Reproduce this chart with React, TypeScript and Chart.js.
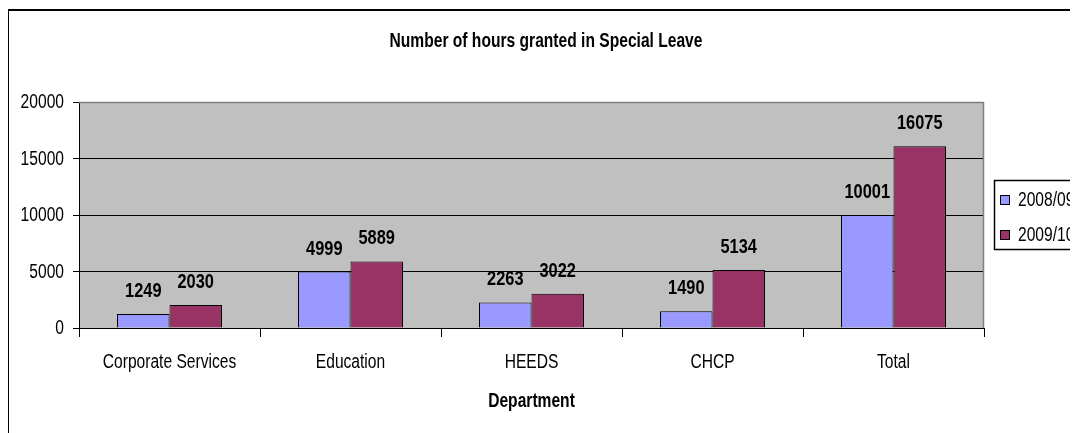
import React, { useEffect, useRef } from "react";
import { Chart, registerables } from "chart.js";

Chart.register(...registerables);

const categories = ["Corporate Services", "Education", "HEEDS", "CHCP", "Total"];
const seriesNames = ["2008/09", "2009/10"];
const values0809 = [1249, 4999, 2263, 1490, 10001];
const values0910 = [2030, 5889, 3022, 5134, 16075];
const seriesColors = ["#9999FF", "#993366"];
const yTicks = [0, 5000, 10000, 15000, 20000];
const chartTitle = "Number of hours granted in Special Leave";
const xTitle = "Department";

const FONT = "'Liberation Sans', Arial, sans-serif";
const FS = 19.5;
const CONDENSE = 0.8;

// Draw all canvas text horizontally condensed (Arial Narrow look-alike).
function condenseText(ctx: any, s: number) {
  const orig = ctx.fillText;
  ctx.fillText = function (text: string, x: number, y: number, maxWidth?: number) {
    this.save();
    this.translate(x, y);
    this.scale(s, 1);
    if (maxWidth === undefined || maxWidth === null) orig.call(this, text, 0, 0);
    else orig.call(this, text, 0, 0, maxWidth / s);
    this.restore();
  };
}

const plotBg = {
  id: "plotBg",
  beforeDraw(chart: any) {
    const { ctx, chartArea: a } = chart;
    ctx.save();
    ctx.fillStyle = "#C0C0C0";
    ctx.fillRect(a.left, a.top, a.right - a.left, a.bottom - a.top);
    ctx.restore();
  },
  beforeDatasetsDraw(chart: any) {
    const { ctx, chartArea: a } = chart;
    ctx.save();
    ctx.strokeStyle = "#808080";
    ctx.lineWidth = 1.5;
    ctx.beginPath();
    ctx.moveTo(a.left, a.top + 0.5);
    ctx.lineTo(a.right - 0.5, a.top + 0.5);
    ctx.lineTo(a.right - 0.5, a.bottom);
    ctx.stroke();
    ctx.restore();
  },
};

const dataLabels = {
  id: "dataLabels",
  afterDatasetsDraw(chart: any) {
    const { ctx } = chart;
    ctx.save();
    ctx.font = `bold 20.5px ${FONT}`;
    ctx.fillStyle = "#000";
    ctx.textAlign = "center";
    ctx.textBaseline = "alphabetic";
    chart.data.datasets.forEach((ds: any, di: number) => {
      const meta = chart.getDatasetMeta(di);
      meta.data.forEach((bar: any, i: number) => {
        ctx.fillText(String(ds.data[i]), bar.x, bar.y - 17);
      });
    });
    ctx.restore();
  },
};

const customLegend = {
  id: "customLegend",
  afterDraw(chart: any) {
    const { ctx, chartArea: a } = chart;
    const left = a.right + 10;
    const top = (a.top + a.bottom) / 2 - 35;
    const h = 69;
    ctx.save();
    ctx.strokeStyle = "#000";
    ctx.lineWidth = 1.5;
    ctx.strokeRect(left + 0.5, top + 0.5, 300, h);
    ctx.font = `${FS}px ${FONT}`;
    ctx.textBaseline = "middle";
    ctx.textAlign = "left";
    chart.data.datasets.forEach((ds: any, i: number) => {
      const cy = top + 20 + i * 35;
      ctx.fillStyle = ds.backgroundColor;
      ctx.fillRect(left + 6.5, cy - 4.5, 9, 9);
      ctx.strokeStyle = "#000";
      ctx.lineWidth = 1;
      ctx.strokeRect(left + 6.5, cy - 4.5, 9, 9);
      ctx.fillStyle = "#000";
      ctx.fillText(ds.label, left + 24, cy + 1);
    });
    ctx.restore();
  },
};

export default function App() {
  const ref = useRef<HTMLCanvasElement>(null);
  useEffect(() => {
    if (!ref.current) return;
    const ctx2d = ref.current.getContext("2d");
    if (ctx2d) condenseText(ctx2d, CONDENSE);
    const lh = 1.2;
    const chart = new Chart(ref.current, {
      type: "bar",
      data: {
        labels: categories,
        datasets: [
          {
            label: seriesNames[0],
            data: values0809,
            backgroundColor: seriesColors[0],
            borderColor: "#000",
            borderWidth: 1,
            barPercentage: 1,
            categoryPercentage: 0.58,
          },
          {
            label: seriesNames[1],
            data: values0910,
            backgroundColor: seriesColors[1],
            borderColor: "#000",
            borderWidth: 1,
            barPercentage: 1,
            categoryPercentage: 0.58,
          },
        ],
      },
      options: {
        responsive: false,
        animation: false,
        devicePixelRatio: 1,
        layout: { padding: { left: 6, right: 0, top: 0, bottom: 0 } },
        plugins: {
          legend: { display: false },
          tooltip: { enabled: false },
          title: {
            display: true,
            text: chartTitle,
            color: "#000",
            font: { family: FONT, size: FS, weight: "bold", lineHeight: lh },
            padding: { top: 22, bottom: 94 - 22 - FS * lh },
          },
        },
        scales: {
          x: {
            offset: true,
            grid: {
              offset: true,
              drawOnChartArea: false,
              drawTicks: true,
              tickLength: 9,
              tickColor: "#000",
              color: "#000",
            },
            border: { display: true, color: "#000", width: 1 },
            ticks: {
              color: "#000",
              font: { family: FONT, size: FS, lineHeight: lh },
              padding: 14,
              maxRotation: 0,
              autoSkip: false,
            },
            title: {
              display: true,
              text: xTitle,
              color: "#000",
              font: { family: FONT, size: FS, weight: "bold", lineHeight: lh },
              padding: { top: 0, bottom: 20 },
            },
            afterFit: (scale: any) => {
              scale.height = 105;
            },
          },
          y: {
            min: yTicks[0],
            max: yTicks[yTicks.length - 1],
            afterBuildTicks: (scale: any) => {
              scale.ticks = yTicks.map((v) => ({ value: v }));
            },
            grid: {
              color: (c: any) => (c.tick && c.tick.value === yTicks[yTicks.length - 1] ? "#808080" : "#000"),
              tickColor: "#000",
              tickLength: 6,
              lineWidth: 1,
            },
            border: { display: true, color: "#000", width: 1 },
            ticks: {
              color: "#000",
              font: { family: FONT, size: FS },
              padding: 9,
              labelOffset: 1,
              callback: (v: any) => String(v),
            },
            afterFit: (scale: any) => {
              scale.width = 65;
            },
          },
          legendSpace: {
            type: "linear",
            position: "right",
            display: true,
            grid: { display: false, drawTicks: false },
            border: { display: false },
            ticks: { display: false },
            afterFit: (scale: any) => {
              scale.width = 94;
            },
          },
        },
      },
      plugins: [plotBg, dataLabels, customLegend],
    } as any);
    return () => chart.destroy();
  }, []);

  return (
    <div style={{ position: "relative", width: 1070, height: 425, overflow: "hidden" }}>
      <div
        style={{
          position: "absolute",
          top: 1,
          left: -1,
          width: 1400,
          height: 700,
          border: "2px solid #000",
          boxSizing: "border-box",
        }}
      />
      <canvas ref={ref} width={1070} height={425} style={{ position: "absolute", top: 0, left: 0 }} />
    </div>
  );
}
